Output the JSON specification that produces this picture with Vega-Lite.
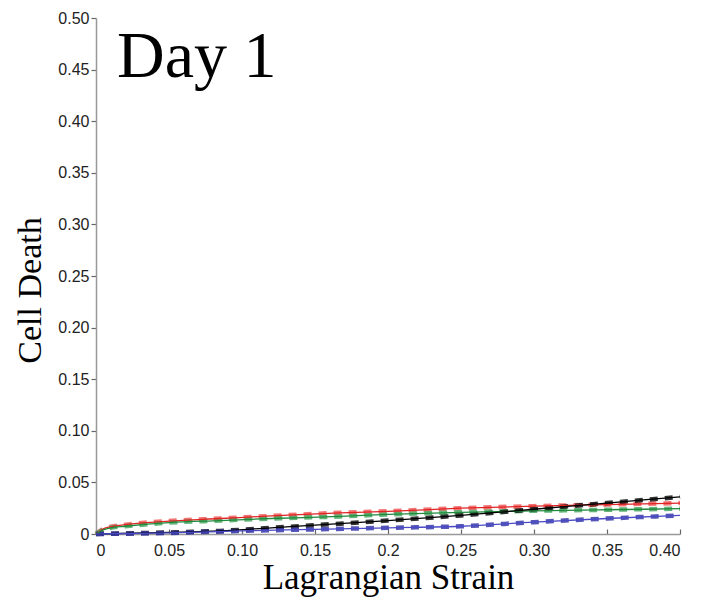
{
  "$schema": "https://vega.github.io/schema/vega-lite/v6.json",
  "width": 584,
  "height": 516,
  "autosize": {"type": "none"},
  "padding": {"left": 96, "top": 18, "right": 22, "bottom": 72},
  "background": "white",
  "config": {"view": {"stroke": null}},
  "datasets": {
    "curves": [
      {"s": "red", "x": 0, "y": 0}, {"s": "red", "x": 0.005, "y": 0.005}, {"s": "red", "x": 0.01, "y": 0.007}, {"s": "red", "x": 0.02, "y": 0.009}, {"s": "red", "x": 0.05, "y": 0.0125}, {"s": "red", "x": 0.085, "y": 0.015}, {"s": "red", "x": 0.12, "y": 0.0175}, {"s": "red", "x": 0.167, "y": 0.0205}, {"s": "red", "x": 0.2, "y": 0.022}, {"s": "red", "x": 0.25, "y": 0.025}, {"s": "red", "x": 0.3, "y": 0.027}, {"s": "red", "x": 0.35, "y": 0.0285}, {"s": "red", "x": 0.4, "y": 0.03},
      {"s": "green", "x": 0, "y": 0}, {"s": "green", "x": 0.005, "y": 0.004}, {"s": "green", "x": 0.01, "y": 0.006}, {"s": "green", "x": 0.02, "y": 0.0075}, {"s": "green", "x": 0.05, "y": 0.011}, {"s": "green", "x": 0.085, "y": 0.013}, {"s": "green", "x": 0.12, "y": 0.015}, {"s": "green", "x": 0.167, "y": 0.017}, {"s": "green", "x": 0.2, "y": 0.019}, {"s": "green", "x": 0.25, "y": 0.021}, {"s": "green", "x": 0.3, "y": 0.0225}, {"s": "green", "x": 0.35, "y": 0.0235}, {"s": "green", "x": 0.4, "y": 0.0245},
      {"s": "black", "x": 0, "y": 0}, {"s": "black", "x": 0.05, "y": 0.0015}, {"s": "black", "x": 0.085, "y": 0.003}, {"s": "black", "x": 0.12, "y": 0.006}, {"s": "black", "x": 0.167, "y": 0.01}, {"s": "black", "x": 0.2, "y": 0.013}, {"s": "black", "x": 0.25, "y": 0.018}, {"s": "black", "x": 0.3, "y": 0.024}, {"s": "black", "x": 0.35, "y": 0.03}, {"s": "black", "x": 0.4, "y": 0.036},
      {"s": "blue", "x": 0, "y": 0}, {"s": "blue", "x": 0.05, "y": 0.001}, {"s": "blue", "x": 0.1, "y": 0.003}, {"s": "blue", "x": 0.15, "y": 0.0045}, {"s": "blue", "x": 0.2, "y": 0.006}, {"s": "blue", "x": 0.25, "y": 0.0075}, {"s": "blue", "x": 0.3, "y": 0.0115}, {"s": "blue", "x": 0.35, "y": 0.015}, {"s": "blue", "x": 0.4, "y": 0.018}
    ],
    "label": [{"text": "Day 1"}]
  },
  "layer": [
    {"data": {"name": "curves"},
     "mark": {"type": "line", "interpolate": "monotone", "strokeWidth": 4.5, "strokeDash": [8, 7], "opacity": 0.85},
     "encoding": {
       "x": {"field": "x", "type": "quantitative", "scale": {"domain": [0, 0.4], "nice": false},
         "axis": {"values": [0, 0.05, 0.1, 0.15, 0.2, 0.25, 0.3, 0.35, 0.4], "grid": false,
           "labelExpr": "datum.value == 0 ? '0' : (abs(datum.value - 0.2) < 1e-9 ? '0.2' : format(datum.value, '.2f'))",
           "title": "Lagrangian Strain", "titleFont": "Liberation Serif", "titleFontSize": 35, "titleFontWeight": "normal", "titleColor": "#000",
           "titleY": 54, "titleBaseline": "alphabetic",
           "labelFont": "Liberation Sans", "labelFontSize": 16, "labelColor": "#222", "labelPadding": 13,
           "domainColor": "#999", "domainWidth": 1.5, "tickColor": "#666", "tickSize": -5, "tickWidth": 1.2}},
       "y": {"field": "y", "type": "quantitative", "scale": {"domain": [0, 0.5], "nice": false},
         "axis": {"values": [0, 0.05, 0.1, 0.15, 0.2, 0.25, 0.3, 0.35, 0.4, 0.45, 0.5], "grid": false,
           "labelExpr": "datum.value == 0 ? '0' : format(datum.value, '.2f')",
           "title": "Cell Death", "titleFont": "Liberation Serif", "titleFontSize": 34, "titleFontWeight": "normal", "titleColor": "#000",
           "titleX": -49, "titleY": 272,
           "labelFont": "Liberation Sans", "labelFontSize": 16, "labelColor": "#222", "labelPadding": 2,
           "domainColor": "#999", "domainWidth": 1.5, "tickColor": "#666", "tickSize": 5, "tickWidth": 1.2}},
       "color": {"field": "s", "type": "nominal", "legend": null, "scale": {"domain": ["red", "green", "black", "blue"], "range": ["#f05a5a", "#4aa864", "#111111", "#3838a8"]}},
       "detail": {"field": "s"}}},
    {"data": {"name": "curves"},
     "mark": {"type": "line", "interpolate": "monotone", "strokeWidth": 1.3, "stroke": null},
     "encoding": {
       "x": {"field": "x", "type": "quantitative"},
       "y": {"field": "y", "type": "quantitative"},
       "stroke": {"field": "s", "type": "nominal", "legend": null, "scale": {"domain": ["red", "green", "black", "blue"], "range": ["#e02424", "#1f8a3c", "#000000", "#4a4ac8"]}},
       "detail": {"field": "s"}}},
    {"data": {"name": "label"},
     "mark": {"type": "text", "align": "left", "baseline": "alphabetic", "font": "Liberation Serif", "fontSize": 66, "color": "#000"},
     "encoding": {
       "x": {"datum": 0.0144, "type": "quantitative"},
       "y": {"datum": 0.443, "type": "quantitative"},
       "text": {"field": "text"}}}
  ],
  "resolve": {"scale": {"color": "independent", "stroke": "independent"}}
}
